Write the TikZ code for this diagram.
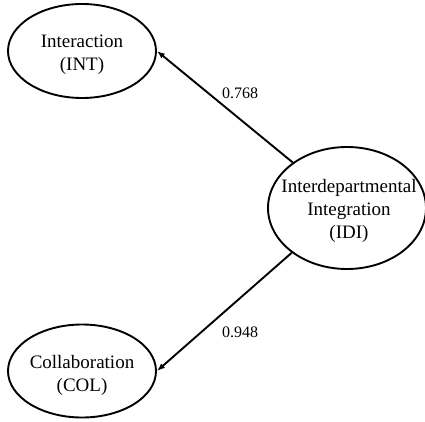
\documentclass[tikz,border=0pt]{standalone}
\usepackage{fontspec}
\setmainfont{Liberation Serif}
\usetikzlibrary{shapes.geometric,arrows.meta}
\begin{document}
\begin{tikzpicture}[x=1pt,y=1pt,
  construct/.style={draw, ellipse, line width=1.9pt, inner sep=0pt},
  caption/.style={align=center, inner sep=0pt, font=\fontsize{19}{23}\selectfont},
  path/.style={line width=1.9pt, -{Latex[length=8pt,width=6pt]}},
  coef/.style={font=\fontsize{16}{19}\selectfont}]
  \useasboundingbox (0,0) rectangle (425,421);
  % latent constructs
  \node[construct, minimum width=148pt, minimum height=94pt] (int) at (82,370) {};
  \node[construct, minimum width=148pt, minimum height=93pt] (col) at (82,50) {};
  \node[construct, minimum width=158pt, minimum height=122pt] (idi) at (347,213) {};
  \node[caption] (intT) at ([yshift=-4pt]int.center) {Interaction\\(INT)};
  \node[caption] (colT) at ([yshift=-4pt]col.center) {Collaboration\\(COL)};
  \node[caption] (idiT) at ([xshift=2pt,yshift=-3pt]idi.center) {Interdepartmental\\Integration\\(IDI)};
  % loadings
  \draw[path] (idi.140.7) -- (int.east);
  \draw[path] (idi.219.3) -- (col.east);
  \node[coef] (l1) at (240,328) {0.768};
  \node[coef] (l2) at (240,89) {0.948};
\end{tikzpicture}
\end{document}
